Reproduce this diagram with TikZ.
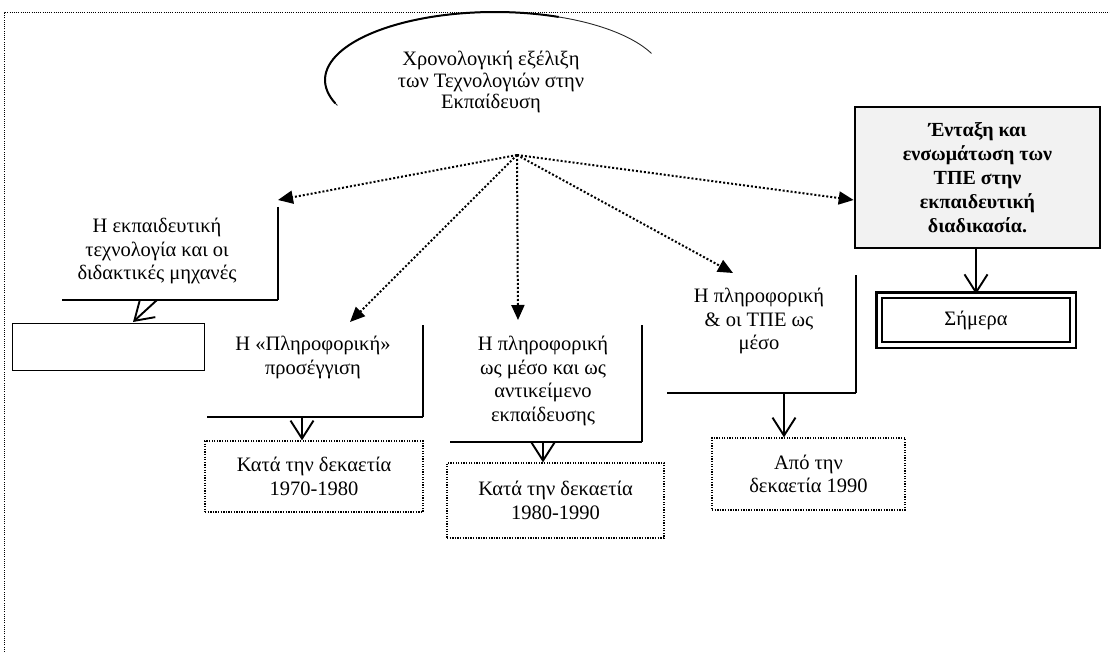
\documentclass[tikz,border=0pt]{standalone}
\usepackage{fontspec}
\setmainfont{Liberation Serif}
\usetikzlibrary{arrows.meta}
\begin{document}
\begin{tikzpicture}[x=1pt,y=-1pt,
  txt/.style={font=\fontsize{20.5}{23.5}\selectfont, align=center, inner sep=0pt},
  frameline/.style={line width=1pt, dash pattern=on 1pt off 1.2pt},
  ptr/.style={line width=2pt, dash pattern=on 2pt off 2pt,
              -{Triangle[length=15pt,width=13pt]}},
  openarr/.style={line width=1.9pt,
              -{Straight Barb[length=18pt,width=23pt,line width=1.9pt]}},
  vline/.style={line width=1.4pt},
  hline/.style={line width=2.4pt},
  dotbox/.style={txt, draw, line width=1.3pt, dash pattern=on 1.3pt off 1.3pt},
]
\useasboundingbox (0,0) rectangle (1110,652);

% page frame
\draw[frameline] (4,652) -- (4,13) -- (1110,13);

% title and its swept arc
\node[txt, font=\fontsize{20.5}{21.5}\selectfont] (title) at (491,82)
  {Χρονολογική εξέλιξη\\των Τεχνολογιών στην\\Εκπαίδευση};
\draw[line width=0.9pt, black!85] plot[smooth, samples=60, domain=158:337]
  ({495+170*cos(\x)},{80+68*sin(\x)});
\draw[line width=2pt] plot[smooth, samples=50, domain=160:292]
  ({495+170*cos(\x)},{80+68*sin(\x)});

\coordinate (hub) at (517,155);

% branch 1
\node[txt] (b1) at (157,251) {Η εκπαιδευτική\\τεχνολογία και οι\\διδακτικές μηχανές};
\coordinate (b1ne) at (278,207);
\coordinate (b1se) at (278,300);
\coordinate (b1sw) at (62,300);
\draw[vline] (b1ne) -- (b1se);
\draw[hline] (b1sw) -- (b1se);
\node[draw, line width=1pt, minimum width=192pt, minimum height=47pt, inner sep=0pt]
  (e1) at (108,346.5) {};
\coordinate (b1out) at (157,300);
\coordinate (e1in) at (133,322);
\draw[openarr] (b1out) -- (e1in);

% branch 2
\node[txt] (b2) at (313,357.5) {Η «Πληροφορική»\\προσέγγιση};
\coordinate (b2ne) at (423,325);
\coordinate (b2se) at (423,417);
\coordinate (b2sw) at (207,417);
\draw[vline] (b2ne) -- (b2se);
\draw[hline] (b2sw) -- (b2se);
\node[dotbox, minimum width=218pt, minimum height=71pt] (d1) at (314,476.5)
  {Κατά την δεκαετία\\1970-1980};
\coordinate (b2out) at (302,417);
\draw[openarr] (b2out) -- (b2out |- d1.north);

% branch 3
\node[txt] (b3) at (543,381) {Η πληροφορική\\ως μέσο και ως\\αντικείμενο\\εκπαίδευσης};
\coordinate (b3ne) at (642,325);
\coordinate (b3se) at (642,442);
\coordinate (b3sw) at (450,442);
\draw[vline] (b3ne) -- (b3se);
\draw[hline] (b3sw) -- (b3se);
\node[dotbox, minimum width=217pt, minimum height=75pt] (d2) at (555.5,500.5)
  {Κατά την δεκαετία\\1980-1990};
\coordinate (b3out) at (543,442);
\draw[openarr] (b3out) -- (b3out |- d2.north);

% branch 4
\node[txt] (b4) at (759,321) {Η πληροφορική\\\&\ οι ΤΠΕ ως\\μέσο};
\coordinate (b4ne) at (856,275);
\coordinate (b4se) at (856,393);
\coordinate (b4sw) at (667,393);
\draw[vline] (b4ne) -- (b4se);
\draw[hline] (b4sw) -- (b4se);
\node[dotbox, minimum width=193pt, minimum height=72pt] (d3) at (808.5,474)
  {Από την\\δεκαετία 1990};
\coordinate (b4out) at (784,393);
\draw[openarr] (b4out) -- (b4out |- d3.north);

% branch 5
\node[txt, font=\fontsize{20}{24}\bfseries\selectfont, draw, line width=2.6pt,
      fill=black!5, minimum width=245pt, minimum height=141pt] (b5) at (977.5,177.5)
  {Ένταξη και\\ενσωμάτωση των\\ΤΠΕ στην\\εκπαιδευτική\\διαδικασία.};
\node[txt, draw, line width=2.2pt, double, double distance=3.5pt,
      minimum width=193.5pt, minimum height=49.5pt] (s5) at (976,320) {Σήμερα};
\draw[openarr] (b5.south -| s5.north) -- (s5.north);

% dotted pointers from the title
\coordinate (t1) at (278,200);
\coordinate (t2) at (350,322);
\coordinate (t3) at (518,320);
\coordinate (t4) at (733,273);
\draw[ptr] (hub) -- (t1);
\draw[ptr] (hub) -- (t2);
\draw[ptr] (hub) -- (t3);
\draw[ptr] (hub) -- (t4);
\draw[ptr] (hub) -- (b5.west |- 0,200);
\end{tikzpicture}
\end{document}
